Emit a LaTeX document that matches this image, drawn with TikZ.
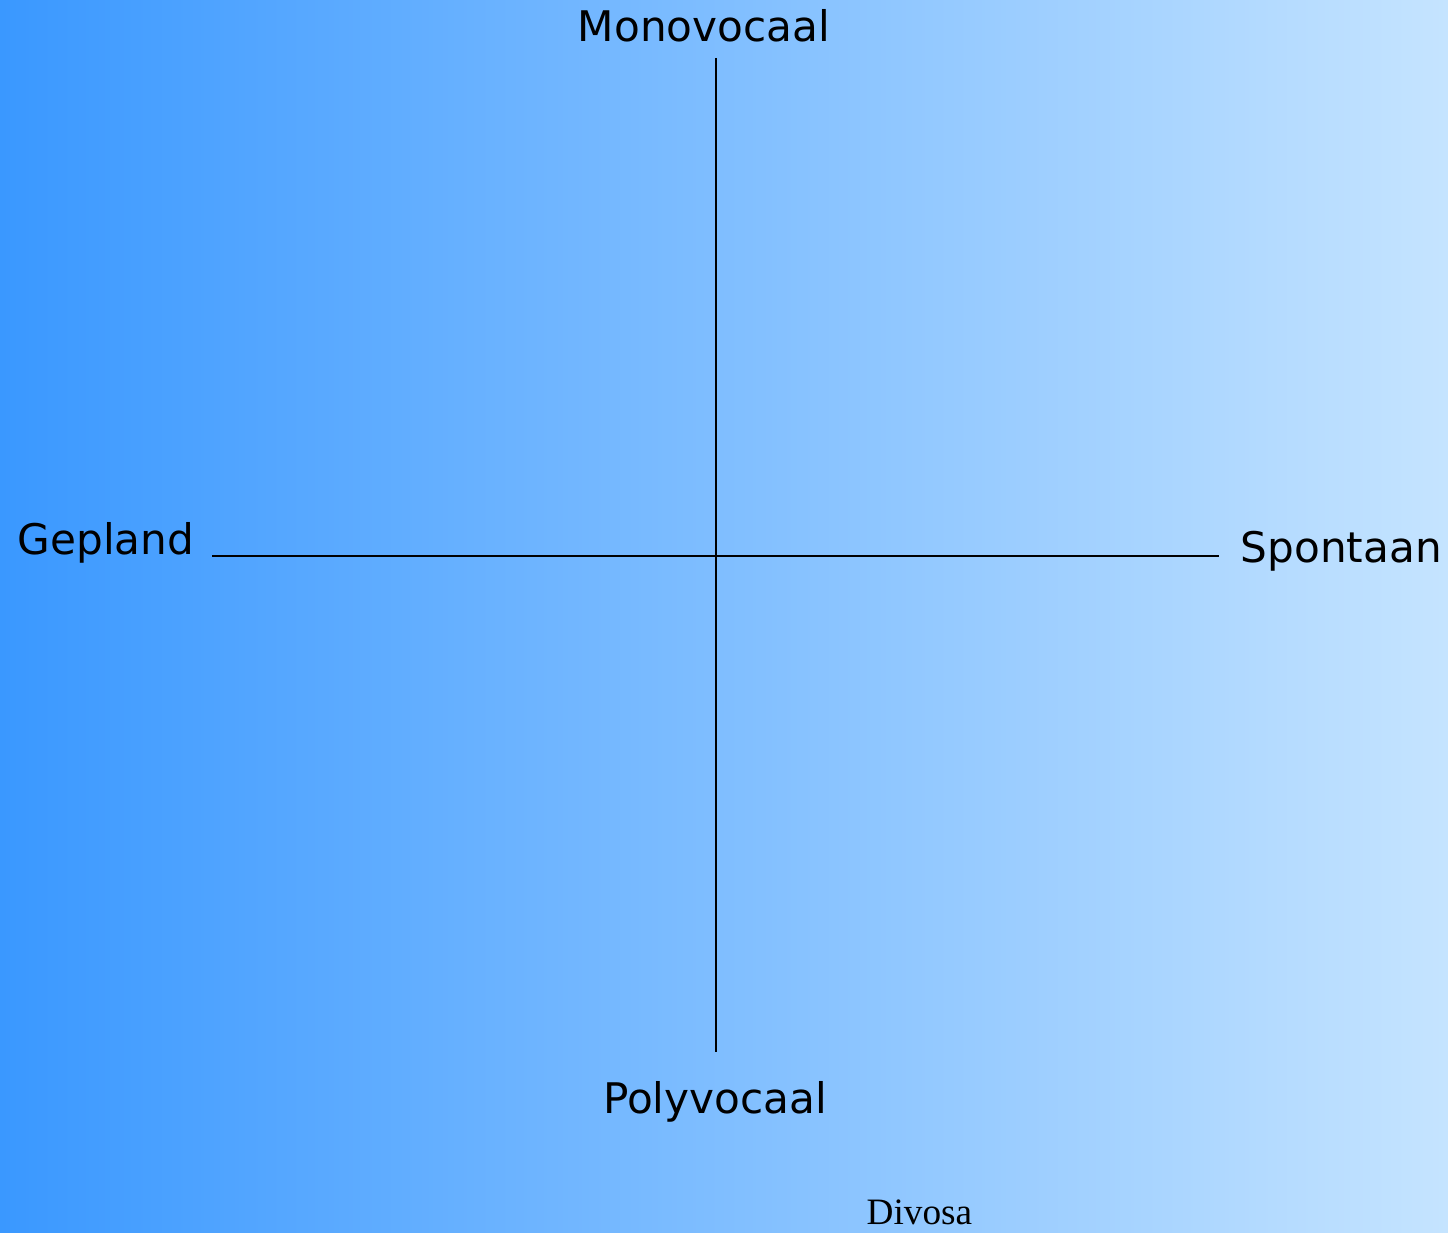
\documentclass[tikz,border=0pt]{standalone}
\usepackage{fontspec}
\usepackage{tikz}
\newfontfamily\axisfont{DejaVu Sans}
\newfontfamily\notefont{Liberation Serif}
\definecolor{bgleft}{RGB}{58,152,255}
\definecolor{bgright}{RGB}{197,228,255}

\begin{document}
\begin{tikzpicture}[x=1cm, y=-1cm,
  axislabel/.style={font=\axisfont\fontsize{12}{14}\selectfont, inner sep=0pt},
  axisline/.style={line width=0.6pt, color=black}]
  \shade[left color=bgleft, right color=bgright] (0,0) rectangle ( 14.48,12.33 );
  \useasboundingbox (0,0) rectangle ( 14.48,12.33 );

  \coordinate (top) at (7.16,0.58); \coordinate (bottom) at (7.16,10.52);
  \coordinate (left) at (2.12,5.56); \coordinate (right) at (12.19,5.56);

  \draw[axisline] (top) -- (bottom); \draw[axisline] (left) -- (right);

  \node[axislabel, anchor=base] (mono) at (7.04,0.42) {Monovocaal};
  \node[axislabel, anchor=base] (poly) at (7.15,11.14) {Polyvocaal};
  \node[axislabel, anchor=base west] (gepland) at (0.17,5.55) {Gepland};
  \node[axislabel, anchor=base west] (spontaan) at (12.40,5.63) {Spontaan};

  \node[font=\notefont\fontsize{10.6}{12}\selectfont, inner sep=0pt,
  anchor=base] (divosa) at (9.195,12.25) {Divosa};
\end{tikzpicture}
\end{document}
